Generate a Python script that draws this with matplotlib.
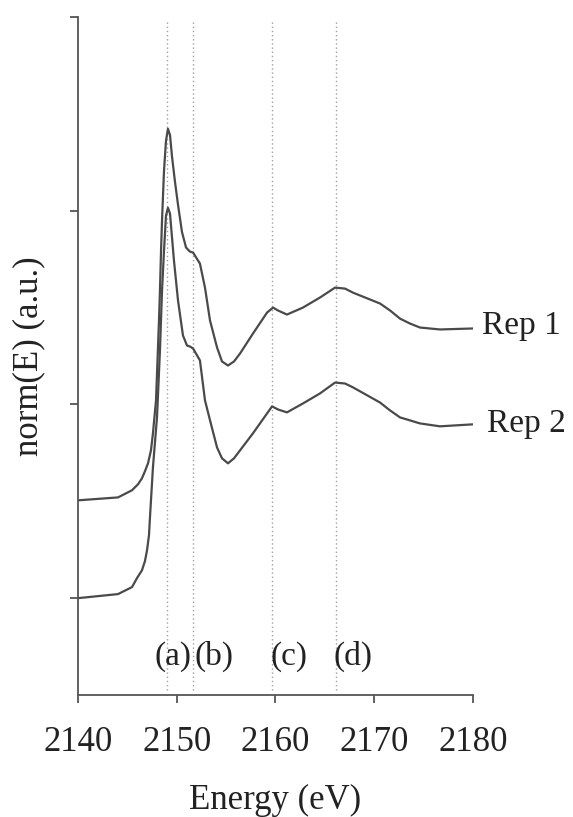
import matplotlib
matplotlib.use("Agg")
import matplotlib.pyplot as plt

# XANES spectra (energy in eV, normalised, offset)
rep1_energy = [2140.0, 2144.05, 2145.47, 2146.08, 2146.48, 2146.78, 2147.09, 2147.39,
               2147.59, 2147.90, 2148.2, 2148.30, 2148.41, 2148.51, 2148.71, 2148.91,
               2149.11, 2149.32, 2149.52, 2149.82, 2150.13, 2150.53, 2150.94, 2151.34,
               2151.65, 2152.35, 2152.86, 2153.37, 2154.08, 2154.58, 2155.19, 2155.80,
               2156.41, 2157.72, 2159.14, 2159.75, 2160.25, 2161.16, 2162.78, 2164.51,
               2166.03, 2167.04, 2167.85, 2170.58, 2171.6, 2172.61, 2173.6, 2174.63,
               2176.66, 2179.9]
rep1_norm = [0.505, 0.52, 0.557, 0.588, 0.619, 0.655, 0.696, 0.763,
             0.851, 1.021, 1.43, 1.588, 1.794, 1.95, 2.206, 2.36,
             2.423, 2.39, 2.28, 2.15, 2.03, 1.89, 1.81, 1.789,
             1.784, 1.727, 1.603, 1.433, 1.294, 1.222, 1.201, 1.222,
             1.263, 1.366, 1.474, 1.500, 1.485, 1.464, 1.500, 1.552,
             1.603, 1.598, 1.577, 1.521, 1.485, 1.443, 1.418, 1.397,
             1.387, 1.392]

rep2_energy = [2140.0, 2144.05, 2145.47, 2145.97, 2146.48, 2146.78, 2146.99, 2147.19,
               2147.29, 2147.59, 2148.0, 2148.3, 2148.51, 2148.71, 2148.91, 2149.11,
               2149.32, 2149.42, 2149.72, 2150.13, 2150.63, 2151.04, 2151.34, 2151.65,
               2152.35, 2152.86, 2153.37, 2154.08, 2154.58, 2155.19, 2155.80, 2156.41,
               2157.72, 2159.65, 2160.25, 2161.16, 2162.78, 2164.51, 2166.03, 2167.04,
               2167.85, 2170.58, 2171.6, 2172.61, 2173.6, 2174.63, 2176.66, 2179.9]
rep2_norm = [0.0, 0.021, 0.057, 0.103, 0.144, 0.191, 0.247, 0.325,
             0.418, 0.675, 0.933, 1.278, 1.588, 1.794, 1.974, 2.015,
             1.985, 1.923, 1.742, 1.536, 1.356, 1.304, 1.299, 1.289,
             1.227, 1.021, 0.918, 0.778, 0.722, 0.696, 0.722, 0.763,
             0.851, 0.990, 0.974, 0.959, 1.005, 1.057, 1.113, 1.108,
             1.088, 1.010, 0.969, 0.933, 0.918, 0.902, 0.887, 0.897]

# feature positions (a)-(d)
feature_energy = [2149.0, 2151.6, 2159.65, 2166.1]
feature_labels = ['(a)', '(b)', '(c)', '(d)']
feature_label_x = [2147.7, 2151.75, 2159.5, 2165.9]

plt.rcParams['font.family'] = ['Liberation Serif', 'DejaVu Serif']

fig = plt.figure(figsize=(5.73, 8.17), dpi=100)
ax = fig.add_axes([0.1361, 0.1493, 0.6894, 0.8299])

line_col = '#4a4a4a'
for e in feature_energy:
    ax.axvline(e, ymin=0.007, ymax=0.995, color='#a0a0a0', linestyle=(0, (1, 2)), linewidth=1.0)

ax.plot(rep1_energy, rep1_norm, color=line_col, linewidth=1.6)
ax.plot(rep2_energy, rep2_norm, color=line_col, linewidth=1.6)

for lab, x in zip(feature_labels, feature_label_x):
    ax.text(x, -0.3, lab, fontsize=24, ha='left', va='center', color='#222222')

ax.text(2180.9, 1.407, 'Rep 1', fontsize=24, ha='left', va='center', color='#222222', clip_on=False)
ax.text(2181.4, 0.902, 'Rep 2', fontsize=24, ha='left', va='center', color='#222222', clip_on=False)

ax.set_xlim(2140, 2180)
ax.set_ylim(-0.5, 3)
ax.set_xticks([2140, 2150, 2160, 2170, 2180])
ax.set_yticks([0, 1, 2, 3])
ax.set_yticklabels([])

for side in ['top', 'right']:
    ax.spines[side].set_visible(False)
for side in ['left', 'bottom']:
    ax.spines[side].set_color('#555555')
    ax.spines[side].set_linewidth(1.3)

ax.tick_params(axis='both', direction='out', length=6, width=1.3, color='#555555')
ax.tick_params(axis='x', labelsize=25, pad=16, labelcolor='#222222')

ax.set_xlabel('Energy (eV)', fontsize=25, labelpad=18, color='#222222')
ax.set_ylabel('norm(E) (a.u.)', fontsize=25, labelpad=14, color='#222222')

fig.savefig('out.png', dpi=100)
